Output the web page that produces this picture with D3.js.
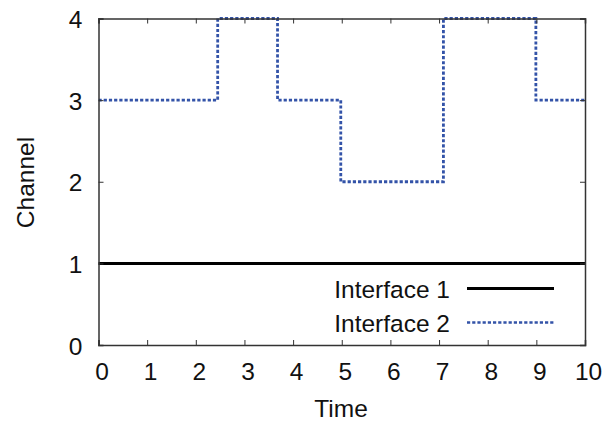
<!DOCTYPE html>
<html><head><meta charset="utf-8">
<script src="https://cdn.jsdelivr.net/npm/d3@7"></script>
<style>body{margin:0;background:#fff}svg{display:block}text{font-family:"Liberation Sans",Arial,sans-serif;fill:#111}</style>
</head><body><svg id="c" width="604" height="423"></svg>
<script>
const xTicks=[0,1,2,3,4,5,6,7,8,9,10];
const yTicks=[0,1,2,3,4];
const iface1Time=[0,10];
const iface1Chan=[1,1];
const iface2Time=[0,2.45,3.68,4.98,7.09,8.99,10];
const iface2Chan=[3,4,3,2,4,3,3];
const seriesNames=["Interface 1","Interface 2"];
const seriesColors=["#000000","#3353a8"];

const m={l:98.5,r:585,t:18.5,b:345};
const svg=d3.select("#c");
const x=d3.scaleLinear().domain([0,10]).range([m.l,m.r]);
const y=d3.scaleLinear().domain([0,4]).range([m.b,m.t]);

const fs=24.5;
const line=d3.line().x(d=>x(d[0])).y(d=>y(d[1]));
const s1=iface1Time.map((t,i)=>[t,iface1Chan[i]]);
const s2=iface2Time.map((t,i)=>[t,iface2Chan[i]]);
svg.append("clipPath").attr("id","cp").append("rect").attr("x",m.l).attr("y",m.t-3).attr("width",m.r-m.l).attr("height",m.b-m.t+6);
svg.append("path").attr("d",d3.line().x(d=>x(d[0])).y(d=>y(d[1])).curve(d3.curveStepAfter)(s2)).attr("fill","none")
  .attr("stroke",seriesColors[1]).attr("stroke-width",2.8).attr("stroke-dasharray","3.2,2").attr("clip-path","url(#cp)");
svg.append("path").attr("d",line(s1)).attr("fill","none")
  .attr("stroke",seriesColors[0]).attr("stroke-width",3);

const g=svg.append("g");
const gb=g.append("g").attr("transform",`translate(0,${m.b})`).call(d3.axisBottom(x).tickValues(xTicks).tickSize(-5).tickFormat(d3.format("d")));
gb.selectAll(".tick text").attr("x",3).attr("y",35).attr("dy",0);
g.append("g").attr("transform",`translate(0,${m.t})`).call(d3.axisTop(x).tickValues(xTicks).tickSize(-5).tickFormat(""));
const gl=g.append("g").attr("transform",`translate(${m.l},0)`).call(d3.axisLeft(y).tickValues(yTicks).tickSize(-5).tickFormat(d3.format("d")));
gl.selectAll(".tick text").attr("x",-16).attr("dy",9);
g.append("g").attr("transform",`translate(${m.r},0)`).call(d3.axisRight(y).tickValues(yTicks).tickSize(-5).tickFormat(""));
g.selectAll(".domain").attr("stroke","#333").attr("stroke-width",1.5);
g.selectAll(".tick line").attr("stroke","#333").attr("stroke-width",1);
g.selectAll(".tick text").attr("font-size",fs).attr("fill","#111").style("font-family","'Liberation Sans',Arial,sans-serif");

svg.append("text").attr("x",341).attr("y",416.5).attr("text-anchor","middle").attr("font-size",fs).text("Time");
svg.append("text").attr("transform",`translate(33.5,182.5) rotate(-90)`).attr("text-anchor","middle").attr("font-size",fs).text("Channel");

const ly=[288.5,322.5];
seriesNames.forEach((n,i)=>{
  svg.append("text").attr("x",450).attr("y",ly[i]+9).attr("text-anchor","end").attr("font-size",fs).text(n);
  svg.append("line").attr("x1",467).attr("x2",554).attr("y1",ly[i]).attr("y2",ly[i])
    .attr("stroke",seriesColors[i]).attr("stroke-width",i?2.6:3).attr("stroke-dasharray",i?"3.2,2":null);
});
</script></body></html>
